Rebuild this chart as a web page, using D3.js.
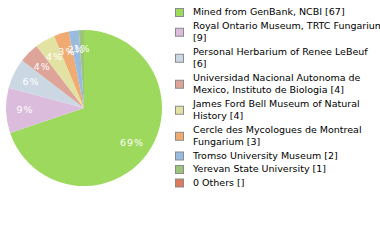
<!DOCTYPE html>
<html>
<head>
<meta charset="utf-8">
<script src="https://cdn.jsdelivr.net/npm/d3@7"></script>
<style>
  body { margin: 0; background: #fff; }
  svg { display: block; }
  text { font-family: "DejaVu Sans", sans-serif; }
</style>
</head>
<body>
<div id="chart"></div>
<script>
// data
const names = [
  "Mined from GenBank, NCBI",
  "Royal Ontario Museum, TRTC Fungarium",
  "Personal Herbarium of Renee LeBeuf",
  "Universidad Nacional Autonoma de Mexico, Instituto de Biologia",
  "James Ford Bell Museum of Natural History",
  "Cercle des Mycologues de Montreal Fungarium",
  "Tromso University Museum",
  "Yerevan State University",
  "0 Others"
];
const counts = [67, 9, 6, 4, 4, 3, 2, 1, null];
const colors = ["#9dd95c", "#dcbcdc", "#cbd8e4", "#dea499", "#e2e2a2",
                "#efab72", "#9abbe0", "#9cc47a", "#dc7a5c"];

const width = 380, height = 240;
const cx = 84, cy = 108, radius = 78;

const svg = d3.select("#chart")
  .append("svg")
  .attr("width", width)
  .attr("height", height);

const total = d3.sum(counts);
const slices = names.map((n, i) => ({name: n, value: counts[i] || 0, color: colors[i]}));

const pie = d3.pie()
  .sort(null)
  .value(d => d.value);

const arc = d3.arc().innerRadius(0).outerRadius(radius);
const labelArc = d3.arc().innerRadius(59).outerRadius(59);

const g = svg.append("g")
  .attr("transform", "translate(" + cx + "," + cy + ")");

const arcs = pie(slices).filter(d => d.value > 0);

g.selectAll("path")
  .data(arcs)
  .join("path")
  .attr("d", arc)
  .attr("fill", d => d.data.color);

g.selectAll("text")
  .data(arcs)
  .join("text")
  .attr("transform", d => "translate(" + labelArc.centroid(d) + ")")
  .attr("text-anchor", "middle")
  .attr("dy", "0.35em")
  .attr("fill", "#fff")
  .attr("font-size", 9.5)
  .attr("letter-spacing", 1)
  .text(d => Math.floor(d.value / total * 100) + "%");

// legend, wrapped by character count like the original
function wrap(str, maxChars) {
  const words = str.split(" ");
  const lines = [];
  let cur = "";
  words.forEach(w => {
    const next = cur ? cur + " " + w : w;
    if (next.length > maxChars && cur) {
      lines.push(cur);
      cur = w;
    } else {
      cur = next;
    }
  });
  lines.push(cur);
  return lines;
}

const lineH = 12.5;
let y = 12;
slices.forEach((d, i) => {
  const label = d.name + " [" + (counts[i] == null ? "" : counts[i]) + "]";
  const lines = wrap(label, 36);
  const mid = y + (lines.length - 1) * lineH / 2;
  svg.append("rect")
    .attr("x", 175.5)
    .attr("y", mid - 3.5)
    .attr("width", 8)
    .attr("height", 8)
    .attr("fill", d.color)
    .attr("stroke", "#8a8a8a")
    .attr("stroke-width", 1);
  const t = svg.append("text")
    .attr("x", 193)
    .attr("y", y)
    .attr("font-size", 9.5)
    .attr("fill", "#000");
  lines.forEach((ln, j) => {
    t.append("tspan")
      .attr("x", 193)
      .attr("y", y + j * lineH)
      .attr("dy", "0.35em")
      .text(ln);
  });
  y += lines.length * lineH + 1;
});
</script>
</body>
</html>
